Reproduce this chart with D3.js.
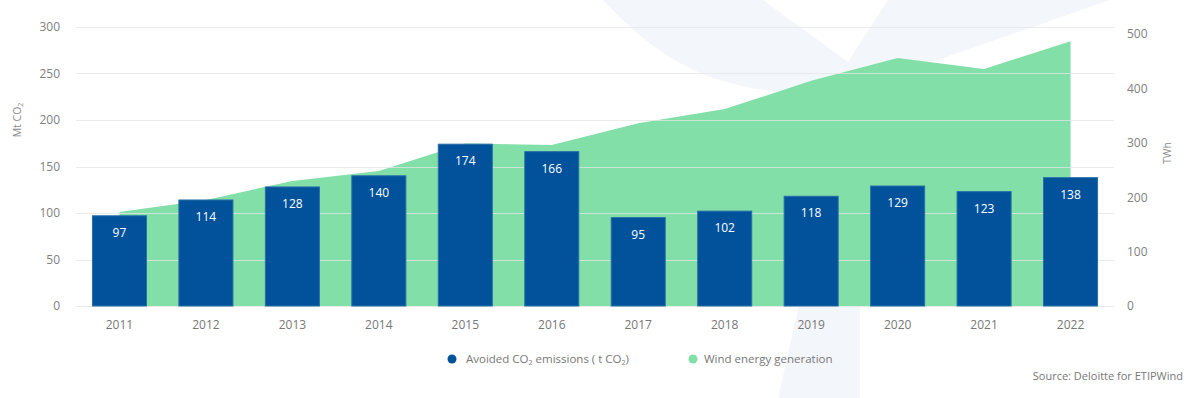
<!DOCTYPE html>
<html>
<head>
<meta charset="utf-8">
<script src="https://cdn.jsdelivr.net/npm/d3@7"></script>
<style>
  html, body { margin: 0; padding: 0; background: #fff; }
  svg { display: block; font-family: "Open Sans", sans-serif; }
</style>
</head>
<body>
<div id="chart"></div>
<script>
// data
const years = ["2011", "2012", "2013", "2014", "2015", "2016", "2017", "2018", "2019", "2020", "2021", "2022"];
const avoidedCO2 = [97, 114, 128, 140, 174, 166, 95, 102, 118, 129, 123, 138];
const windTWh = [173, 195, 230, 248, 299, 296, 336, 362, 414, 456, 436, 487];
const leftTicks = [0, 50, 100, 150, 200, 250, 300];
const rightTicks = [0, 100, 200, 300, 400, 500];

const width = 1194, height = 398;
const margin = { top: 27, right: 80, bottom: 92, left: 76 };
const plotBottom = height - margin.bottom;

const svg = d3.select("#chart").append("svg")
  .attr("width", width)
  .attr("height", height);

// faint turbine watermark in the background
const wm = svg.append("g").attr("fill", "#f3f6fa");
wm.append("path")
  .attr("d", "M603,0 L763,0 L848,62 L888,0 L1110,0 L880,80 C870,95 862,115 860,150 L860,398 L778,398 L832,160 C835,120 820,95 790,92 C700,88 650,50 603,0 Z");

const x = d3.scaleBand()
  .domain(years)
  .range([margin.left, width - margin.right])
  .paddingInner(0.375)
  .paddingOuter(0.19);

const yLeft = d3.scaleLinear().domain([0, 300]).range([plotBottom, margin.top]);
const yRight = d3.scaleLinear().domain([0, 513]).range([plotBottom, margin.top]);

const cx = d => x(d) + x.bandwidth() / 2;

// wind generation area
const area = d3.area()
  .x((d, i) => cx(years[i]))
  .y0(yRight(0))
  .y1(d => yRight(d));

svg.append("path")
  .datum(windTWh)
  .attr("fill", "#82dfa8")
  .attr("d", area);

// gridlines
svg.append("g")
  .selectAll("line")
  .data(leftTicks)
  .enter()
  .append("line")
  .attr("x1", margin.left)
  .attr("x2", width - margin.right)
  .attr("y1", d => Math.round(yLeft(d)) + 0.5)
  .attr("y2", d => Math.round(yLeft(d)) + 0.5)
  .attr("stroke", "#e4e4e4")
  .attr("stroke-opacity", 0.75);

// bars
svg.append("g")
  .selectAll("rect")
  .data(avoidedCO2)
  .enter()
  .append("rect")
  .attr("x", (d, i) => x(years[i]))
  .attr("y", d => yLeft(d))
  .attr("width", x.bandwidth())
  .attr("height", d => yLeft(0) - yLeft(d))
  .attr("fill", "#01529a")
  .attr("stroke", "#2a6ea8")
  .attr("stroke-width", 1);

// bar labels
svg.append("g")
  .selectAll("text")
  .data(avoidedCO2)
  .enter()
  .append("text")
  .attr("x", (d, i) => cx(years[i]))
  .attr("y", d => yLeft(d) + 21)
  .attr("text-anchor", "middle")
  .attr("fill", "#fff")
  .attr("font-size", 12)
  .text(d => d);

// axes
const xAxis = svg.append("g")
  .attr("transform", `translate(0,${plotBottom})`)
  .call(d3.axisBottom(x).tickSize(0).tickPadding(14));
xAxis.select(".domain").remove();
xAxis.selectAll("text").attr("fill", "#777").attr("font-size", 12).attr("font-family", "Open Sans, sans-serif");

const leftAxis = svg.append("g")
  .attr("transform", `translate(${margin.left},0)`)
  .call(d3.axisLeft(yLeft).tickValues(leftTicks).tickSize(0).tickPadding(16));
leftAxis.select(".domain").remove();
leftAxis.selectAll("text").attr("fill", "#808080").attr("font-size", 12).attr("font-family", "Open Sans, sans-serif");

const rightAxis = svg.append("g")
  .attr("transform", `translate(${width - margin.right},0)`)
  .call(d3.axisRight(yRight).tickValues(rightTicks).tickSize(0).tickPadding(13));
rightAxis.select(".domain").remove();
rightAxis.selectAll("text").attr("fill", "#808080").attr("font-size", 12).attr("font-family", "Open Sans, sans-serif");

// axis titles
const lt = svg.append("text")
  .attr("transform", "translate(21,120) rotate(-90)")
  .attr("text-anchor", "middle")
  .attr("fill", "#888")
  .attr("font-size", 10.5);
lt.append("tspan").text("Mt CO");
lt.append("tspan").attr("font-size", 7).attr("dy", 2).text("2");

svg.append("text")
  .attr("transform", "translate(1171,153) rotate(-90)")
  .attr("text-anchor", "middle")
  .attr("fill", "#888")
  .attr("font-size", 10.5)
  .text("TWh");

// legend
const legend = svg.append("g").attr("font-size", 11.5).attr("fill", "#777");
legend.append("circle").attr("cx", 452).attr("cy", 359).attr("r", 4.5).attr("fill", "#01529a");
const l1 = legend.append("text").attr("x", 466).attr("y", 363);
l1.append("tspan").text("Avoided CO");
l1.append("tspan").attr("font-size", 7).attr("dy", 2).text("2");
l1.append("tspan").attr("dy", -2).text(" emissions ( t CO");
l1.append("tspan").attr("font-size", 7).attr("dy", 2).text("2");
l1.append("tspan").attr("dy", -2).text(")");

legend.append("circle").attr("cx", 693).attr("cy", 359).attr("r", 4.5).attr("fill", "#82dfa8");
legend.append("text").attr("x", 704).attr("y", 363).text("Wind energy generation");

svg.append("text")
  .attr("x", 1183)
  .attr("y", 380)
  .attr("text-anchor", "end")
  .attr("fill", "#777")
  .attr("font-size", 11)
  .text("Source: Deloitte for ETIPWind");
</script>
</body>
</html>
